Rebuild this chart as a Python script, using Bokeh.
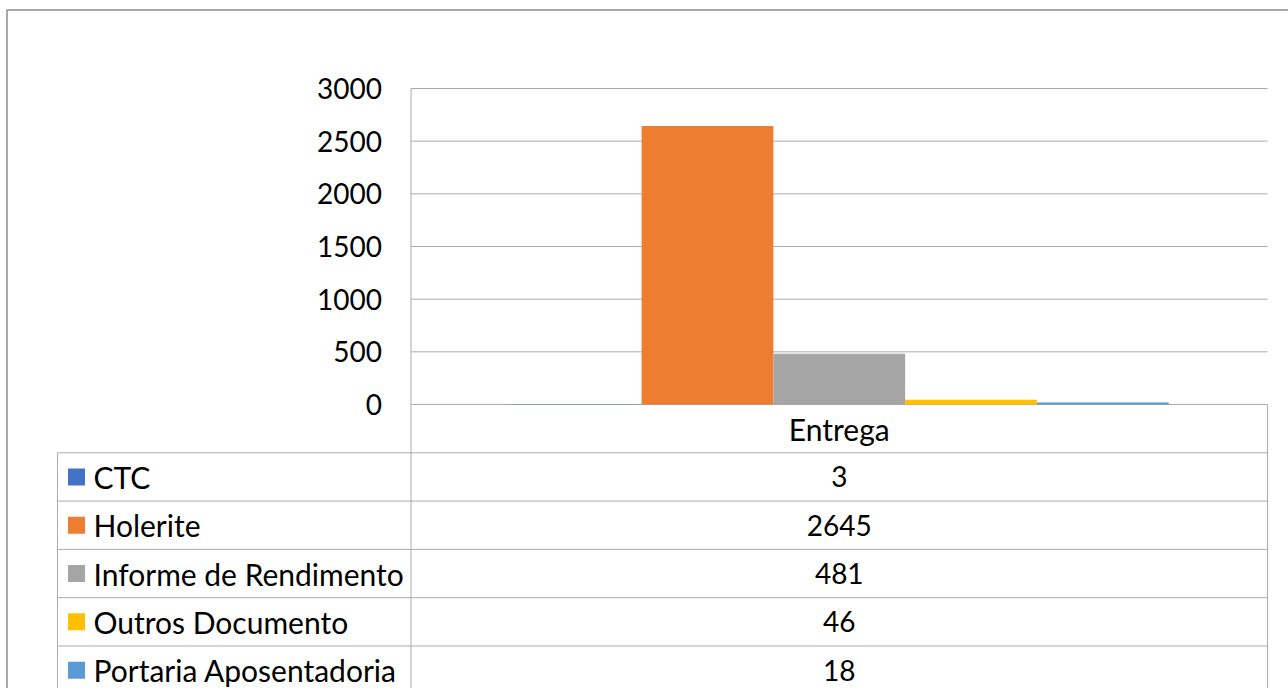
from bokeh.plotting import figure
from bokeh.models import Range1d, LinearAxis, FixedTicker, ColumnDataSource
from bokeh.core.properties import value
from bokeh.embed import file_html
from bokeh.resources import INLINE

# ---- data ----
category = "Entrega"
series = ["CTC", "Holerite", "Informe de Rendimento", "Outros Documento", "Portaria Aposentadoria"]
values = [3, 2645, 481, 46, 18]
colors = ["#4472C4", "#ED7D31", "#A5A5A5", "#FFC000", "#5B9BD5"]
y_ticks = [0, 500, 1000, 1500, 2000, 2500, 3000]

# ---- layout (canvas pixels) ----
W, H = 1288, 688
PLOT_L, PLOT_R = 410.5, 1267
Y_TOP_PX, Y_ZERO_PX = 88, 404
Y_MAX = 3000
TABLE_L = 57
ROW_H = 48.3
FONT = "Lato"
FSIZE_TXT = "30px"
FSIZE_NUM = "28px"
GRID = "#ababab"

span = PLOT_R - PLOT_L
x0 = (0 - PLOT_L) / span
x1 = (W - PLOT_L) / span
scale = (Y_ZERO_PX - Y_TOP_PX) / Y_MAX
y0 = -(H - Y_ZERO_PX) / scale
y1 = Y_MAX + Y_TOP_PX / scale

p = figure(width=W, height=H, output_backend="svg", toolbar_location=None,
           x_range=Range1d(x0, x1), y_range=Range1d(y0, y1),
           x_axis_location=None, y_axis_location=None, title=None,
           min_border=0, outline_line_color=None,
           background_fill_color="white", border_fill_color="white")
p.xgrid.visible = False
p.ygrid.visible = False
p.extra_x_ranges = {"px": Range1d(0, W)}
p.extra_y_ranges = {"py": Range1d(H, 0)}

# gridlines (data space)
p.segment(x0=[0] * len(y_ticks), x1=[1] * len(y_ticks), y0=y_ticks, y1=y_ticks,
          line_color=GRID, line_width=1)

# bars: clustered columns, Excel gap width 150%
n = len(series)
gap = 1.5
bw = 1.0 / (n + gap)
xs = [gap / 2 * bw + bw * (i + 0.5) for i in range(n)]
src = ColumnDataSource(dict(x=xs, top=values, color=colors, name=series))
p.vbar(x="x", top="top", bottom=0, width=bw, fill_color="color", line_color=None, source=src)

# y axis drawn at x=0 of the category span
ax = LinearAxis(fixed_location=0, ticker=FixedTicker(ticks=y_ticks))
ax.axis_line_color = None
ax.major_tick_line_color = None
ax.minor_tick_line_color = None
ax.major_tick_out = 0
ax.major_tick_in = 0
ax.major_label_standoff = 29
ax.major_label_text_font = FONT
ax.major_label_text_font_size = FSIZE_NUM
ax.major_label_text_color = "black"
p.add_layout(ax, "left")

# ---- data table ----
rows_top = Y_ZERO_PX + ROW_H  # first series row top
bounds = [rows_top + k * ROW_H for k in range(n + 1)]
centers = [(bounds[k] + bounds[k + 1]) / 2 for k in range(n)]

# horizontal lines
p.segment(x0=[TABLE_L] * n, x1=[PLOT_R] * n, y0=bounds[:n], y1=bounds[:n],
          line_color=GRID, line_width=1, x_range_name="px", y_range_name="py")
# vertical lines
p.segment(x0=[TABLE_L, PLOT_L, PLOT_R], x1=[TABLE_L, PLOT_L, PLOT_R],
          y0=[rows_top, Y_TOP_PX, Y_ZERO_PX], y1=[H] * 3,
          line_color=GRID, line_width=1, x_range_name="px", y_range_name="py")
# outer chart frame (left and top visible)
p.line(x=[6.5, 6.5, W], y=[H, 9.5, 9.5],
       line_color="#8c8c8c", line_width=1.5, x_range_name="px", y_range_name="py")

# header: category name
p.text(x=[0.5], y=[(Y_ZERO_PX + rows_top) / 2], text=[category],
       text_font=value(FONT), text_font_size=value(FSIZE_TXT), text_color="black",
       text_align="center", text_baseline="middle",
       y_range_name="py")

# legend keys and series names
p.rect(x=[76] * n, y=centers, width=17, height=17, fill_color=colors, line_color=None,
       x_range_name="px", y_range_name="py")
p.text(x=[93] * n, y=centers, text=series,
       text_font=value(FONT), text_font_size=value(FSIZE_TXT), text_color="black",
       text_align="left", text_baseline="middle",
       x_range_name="px", y_range_name="py")
# values
p.text(x=[0.5] * n, y=centers, text=[str(v) for v in values],
       text_font=value(FONT), text_font_size=value(FSIZE_NUM), text_color="black",
       text_align="center", text_baseline="middle",
       y_range_name="py")

open("out.html", "w").write(file_html(p, INLINE))
